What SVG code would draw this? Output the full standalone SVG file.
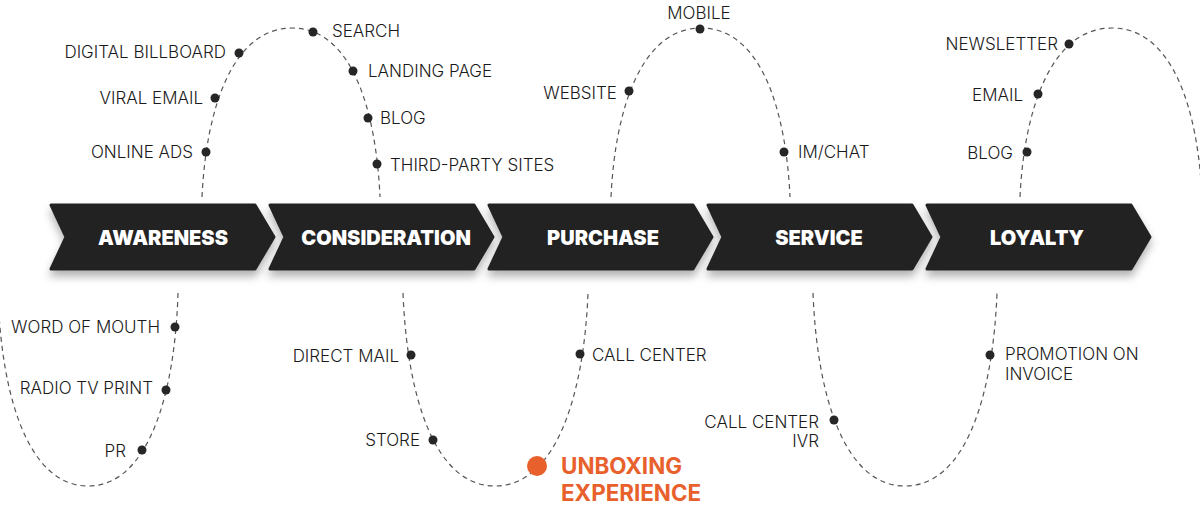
<svg xmlns="http://www.w3.org/2000/svg" width="1200" height="510" viewBox="0 0 1200 510">
<defs>
<filter id="sh" x="-10%" y="-30%" width="120%" height="180%">
<feDropShadow dx="0" dy="6" stdDeviation="4" flood-color="#000" flood-opacity="0.3"/>
</filter>
<style>
.chev{fill:#232323;stroke:#232323;stroke-width:3;stroke-linejoin:round;filter:url(#sh)}
.ct{font-family:Inter,"Liberation Sans",sans-serif;font-weight:900;font-size:20px;fill:#fff;text-anchor:middle}
.dash{fill:none;stroke:#555;stroke-width:1.2;stroke-dasharray:5 4}
.dot{fill:#262626}
.lb{font-family:Inter,"Liberation Sans",sans-serif;font-size:17px;font-weight:300;fill:#1a1a1a}
.r{text-anchor:end}
.or{font-family:Inter,"Liberation Sans",sans-serif;font-weight:700;font-size:22.4px;fill:#E8612C}
</style>
</defs>
<g id="connectors">
<path class="dash" d="M202,197 C206,110 232,28 292,28 C352,28 376,110 380,197"/>
<path class="dash" d="M178,293 C175,395 148,486 88,486 C28,486 1,395 -2,293"/>
<path class="dash" d="M403,293 C407,395 434,486 495,486 C556,486 584,395 588,293"/>
<path class="dash" d="M611,197 C615,110 641,28 701,28 C761,28 786,110 790,197"/>
<path class="dash" d="M813,293 C817,395 844,486 905,486 C966,486 993,395 997,293"/>
<path class="dash" d="M1020,197 C1024,110 1051,28 1112,28 C1173,28 1198,110 1202,197"/>
</g>
<g id="awareness"><path class="chev" d="M51,205 L255,205 L274,237 L255,269 L51,269 L66,237 Z"/><text class="ct" x="163" y="245">AWARENESS</text></g>
<g id="consideration"><path class="chev" d="M270,205 L474,205 L493,237 L474,269 L270,269 L285,237 Z"/><text class="ct" x="386" y="245">CONSIDERATION</text></g>
<g id="purchase"><path class="chev" d="M489,205 L693,205 L712,237 L693,269 L489,269 L504,237 Z"/><text class="ct" x="603" y="245">PURCHASE</text></g>
<g id="service"><path class="chev" d="M708,205 L912,205 L931,237 L912,269 L708,269 L723,237 Z"/><text class="ct" x="819" y="245">SERVICE</text></g>
<g id="loyalty"><path class="chev" d="M927,205 L1131,205 L1150,237 L1131,269 L927,269 L942,237 Z"/><text class="ct" x="1037" y="245">LOYALTY</text></g>
<g id="online-ads"><circle class="dot" cx="206" cy="152" r="4.5"/><text class="lb r" x="193" y="158">ONLINE ADS</text></g>
<g id="viral-email"><circle class="dot" cx="215" cy="98" r="4.5"/><text class="lb r" x="203" y="104">VIRAL EMAIL</text></g>
<g id="digital-billboard"><circle class="dot" cx="239" cy="53" r="4.5"/><text class="lb r" x="226" y="58">DIGITAL BILLBOARD</text></g>
<g id="search"><circle class="dot" cx="313" cy="32" r="4.5"/><text class="lb" x="332" y="37">SEARCH</text></g>
<g id="landing-page"><circle class="dot" cx="353" cy="71" r="4.5"/><text class="lb" x="368" y="77">LANDING PAGE</text></g>
<g id="blog-1"><circle class="dot" cx="368" cy="118" r="4.5"/><text class="lb" x="380" y="124">BLOG</text></g>
<g id="third-party"><circle class="dot" cx="377" cy="164" r="4.5"/><text class="lb" x="390" y="171">THIRD-PARTY SITES</text></g>
<g id="word-of-mouth"><circle class="dot" cx="175" cy="327" r="4.5"/><text class="lb r" x="160" y="333">WORD OF MOUTH</text></g>
<g id="radio"><circle class="dot" cx="166" cy="390" r="4.5"/><text class="lb r" x="153" y="394">RADIO TV PRINT</text></g>
<g id="pr"><circle class="dot" cx="142" cy="450" r="4.5"/><text class="lb r" x="126" y="457">PR</text></g>
<g id="direct-mail"><circle class="dot" cx="411" cy="355" r="4.5"/><text class="lb r" x="399" y="362">DIRECT MAIL</text></g>
<g id="store"><circle class="dot" cx="433" cy="440" r="4.5"/><text class="lb r" x="420" y="446">STORE</text></g>
<g id="unboxing"><circle cx="537" cy="466" r="10" fill="#E8612C"/><text class="or" x="561" y="474">UNBOXING</text><text class="or" x="561" y="501">EXPERIENCE</text></g>
<g id="call-center"><circle class="dot" cx="580" cy="354" r="4.5"/><text class="lb" x="592" y="361">CALL CENTER</text></g>
<g id="website"><circle class="dot" cx="629" cy="91" r="4.5"/><text class="lb r" x="617" y="99">WEBSITE</text></g>
<g id="mobile"><circle class="dot" cx="700" cy="29" r="4.5"/><text class="lb" x="699" y="19" text-anchor="middle">MOBILE</text></g>
<g id="im-chat"><circle class="dot" cx="784" cy="152" r="4.5"/><text class="lb" x="798" y="158">IM/CHAT</text></g>
<g id="call-center-ivr"><circle class="dot" cx="834" cy="420" r="4.5"/><text class="lb r" x="819" y="428">CALL CENTER</text><text class="lb r" x="819" y="447">IVR</text></g>
<g id="promotion"><circle class="dot" cx="990" cy="355" r="4.5"/><text class="lb" x="1005" y="360">PROMOTION ON</text><text class="lb" x="1005" y="380">INVOICE</text></g>
<g id="blog-2"><circle class="dot" cx="1027" cy="152" r="4.5"/><text class="lb r" x="1013" y="159">BLOG</text></g>
<g id="email"><circle class="dot" cx="1038" cy="94" r="4.5"/><text class="lb r" x="1023" y="101">EMAIL</text></g>
<g id="newsletter"><circle class="dot" cx="1069" cy="44" r="4.5"/><text class="lb r" x="1058" y="50">NEWSLETTER</text></g>
</svg>
